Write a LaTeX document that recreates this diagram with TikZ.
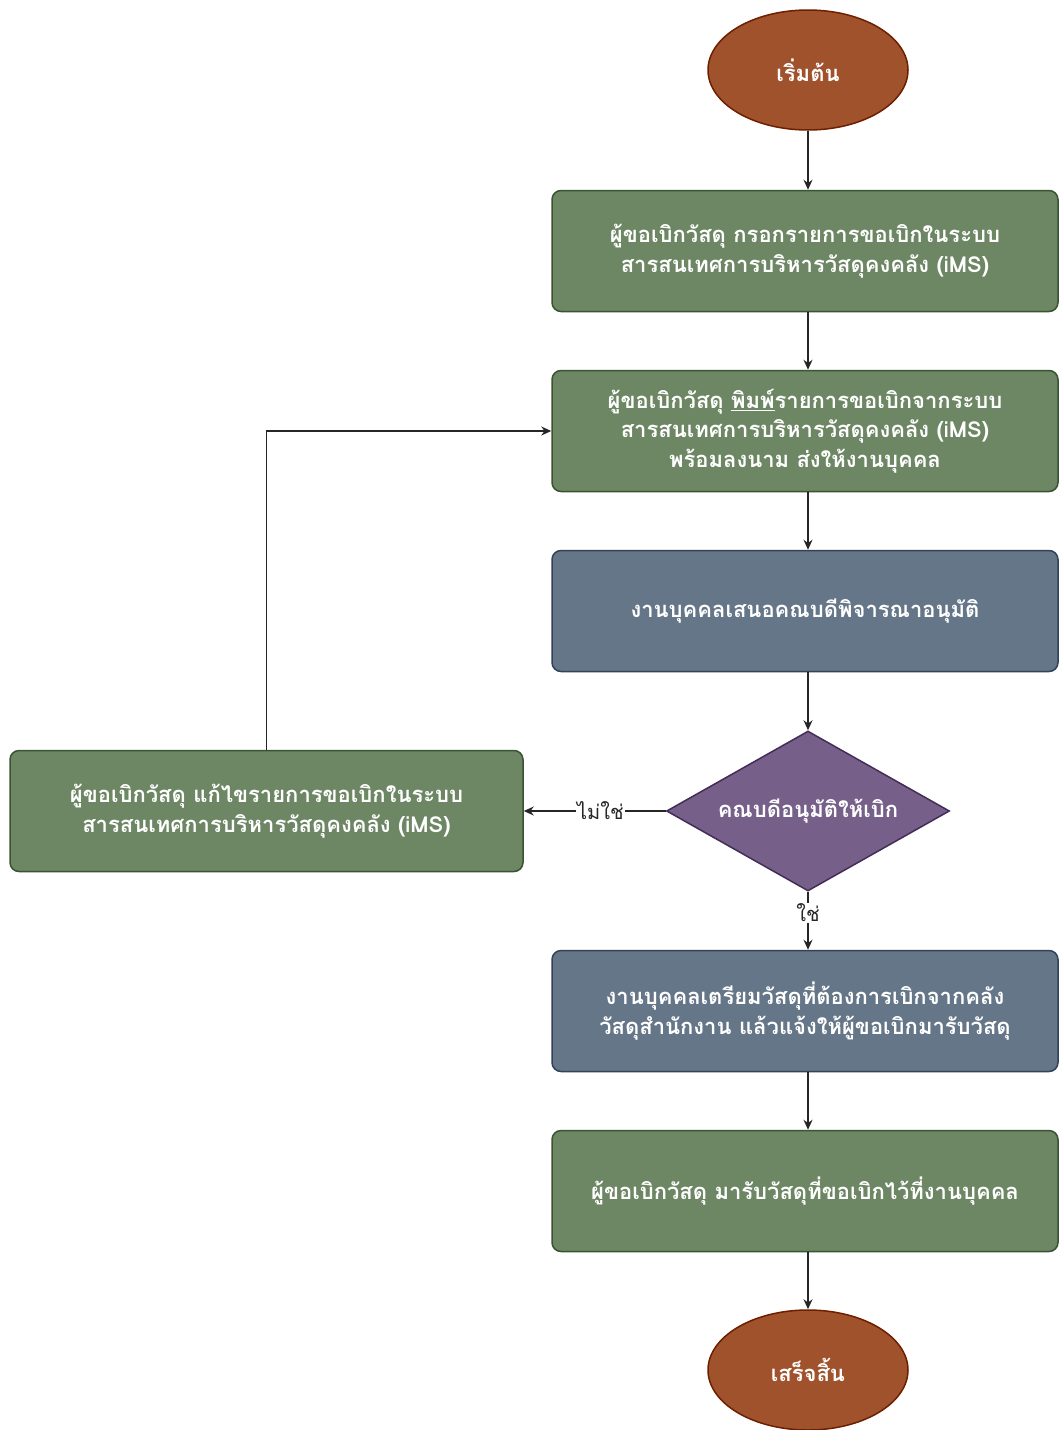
\documentclass[tikz,border=0pt]{standalone}
\usepackage{fontspec}
\newfontfamily\thaifont[Script=Thai]{Loma}
\usetikzlibrary{arrows.meta,shapes.geometric,positioning}
\definecolor{greenfill}{HTML}{6D8764}
\definecolor{greenline}{HTML}{3A5431}
\definecolor{bluefill}{HTML}{647687}
\definecolor{blueline}{HTML}{314354}
\definecolor{purplefill}{HTML}{76608A}
\definecolor{purpleline}{HTML}{432D57}
\definecolor{brownfill}{HTML}{A0522D}
\definecolor{brownline}{HTML}{6D1F00}
\tikzset{
	term/.style={ellipse,draw=brownline,fill=brownfill,line width=1.5pt,minimum width=200,minimum height=120,text=white,font=\thaifont\bfseries\fontsize{22}{29.5}\selectfont},
	procg/.style={rectangle,rounded corners=9pt,draw=greenline,fill=greenfill,line width=1.5pt,minimum width=506,minimum height=121,align=center,text=white,font=\thaifont\bfseries\fontsize{22}{29.5}\selectfont},
	procb/.style={procg,draw=blueline,fill=bluefill},
	decide/.style={diamond,draw=purpleline,fill=purplefill,line width=1.5pt,minimum width=283,minimum height=160,inner sep=0pt,text=white,font=\thaifont\bfseries\fontsize{22}{29.5}\selectfont},
	diredge/.style={-{Stealth[width=9pt,length=10pt]},color=black!85,line width=1.3pt},
	edgelabel/.style={fill=white,inner sep=1pt,font=\thaifont\fontsize{20}{22}\selectfont}
}
\begin{document}
\begin{tikzpicture}[x=1pt,y=1pt]
	\useasboundingbox (0,0) rectangle (1059,-1430);
	
	\node [term] (start) at (808,-70) {เริ่มต้น};
	\node [procg] (fill) at (805,-251) {ผู้ขอเบิกวัสดุ กรอกรายการขอเบิกในระบบ\\สารสนเทศการบริหารวัสดุคงคลัง (iMS)};
	\node [procg] (print) at (805,-431) {ผู้ขอเบิกวัสดุ \underline{พิมพ์}รายการขอเบิกจากระบบ\\สารสนเทศการบริหารวัสดุคงคลัง (iMS)\\พร้อมลงนาม ส่งให้งานบุคคล};
	\node [procb] (propose) at (805,-611) {งานบุคคลเสนอคณบดีพิจารณาอนุมัติ};
	\node [decide] (approve) at (808,-811) {\makebox[0pt]{คณบดีอนุมัติให้เบิก}};
	\node [procg,minimum width=513] (edit) at (266.5,-811) {ผู้ขอเบิกวัสดุ แก้ไขรายการขอเบิกในระบบ\\สารสนเทศการบริหารวัสดุคงคลัง (iMS)};
	\node [procb] (prepare) at (805,-1011) {งานบุคคลเตรียมวัสดุที่ต้องการเบิกจากคลัง\\วัสดุสำนักงาน แล้วแจ้งให้ผู้ขอเบิกมารับวัสดุ};
	\node [procg] (receive) at (805,-1191) {ผู้ขอเบิกวัสดุ มารับวัสดุที่ขอเบิกไว้ที่งานบุคคล};
	\node [term] (finish) at (808,-1370) {เสร็จสิ้น};
	
	\draw [diredge] (start.south) -- (start.south |- fill.north);
	\draw [diredge] (start.south |- fill.south) -- (start.south |- print.north);
	\draw [diredge] (start.south |- print.south) -- (start.south |- propose.north);
	\draw [diredge] (start.south |- propose.south) -- (approve.north);
	\draw [diredge] (approve.west) -- node[edgelabel,pos=0.46] {ไม่ใช่} (edit.east);
	\draw [diredge] (approve.south) -- node[edgelabel,pos=0.36] {ใช่} (approve.south |- prepare.north);
	\draw [diredge] (start.south |- prepare.south) -- (start.south |- receive.north);
	\draw [diredge] (start.south |- receive.south) -- (finish.north);
	\draw [diredge] (edit.north) |- (print.west);
	
\end{tikzpicture}
\end{document}
